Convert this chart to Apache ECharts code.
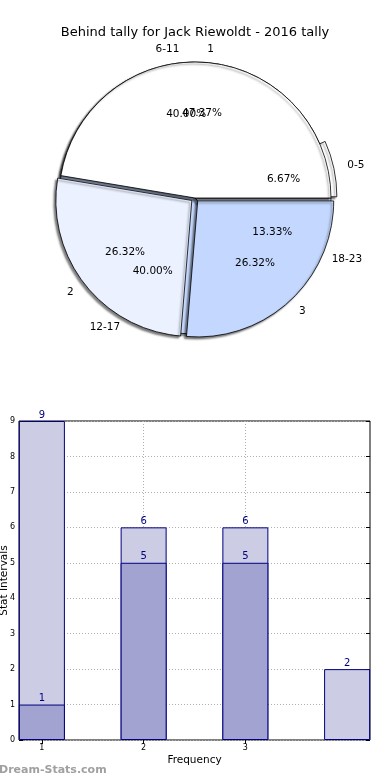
<!DOCTYPE html>
<html><head><meta charset="utf-8">
<script src="https://cdn.jsdelivr.net/npm/echarts@6/dist/echarts.min.js"></script>
<style>html,body{margin:0;padding:0;background:#fff}#c{width:390px;height:780px}</style>
</head><body><div id="c"></div>
<script>
// ---- data ----
const titleText = 'Behind tally for Jack Riewoldt - 2016 tally';
const intervalLabels = ['0-5', '6-11', '12-17', '18-23'];
const intervalCounts = [1, 6, 6, 2];
const freqLabels = ['1', '2', '3'];
const freqCounts = [9, 5, 5];
const barX = [1, 2, 3, 4];
const barLight = [9, 6, 6, 2];
const barDark = [1, 5, 5];
const xTickValues = [1, 2, 3];

// ---- style ----
const FONT = 'DejaVu Sans';
const CX = 195, CY = 198, R = 136;
const pie1Colors = ['#ffffff', '#ffffff', '#c6d9ff', '#eaf1ff'];
const pie2Colors = ['#ffffff', '#ebf1ff', '#c4d8ff'];
const pie1Selected = [true, false, false, false];
const pie2Selected = [false, true, true];

function pct(counts, i) {
  const s = counts.reduce((a, b) => a + b, 0);
  return (counts[i] / s * 100).toFixed(2) + '%';
}
function sliceData(labels, counts, colors, sel) {
  return labels.map((n, i) => ({ name: n, value: counts[i], selected: sel[i], itemStyle: { color: colors[i] } }));
}
function labelData(labels, counts, sel) {
  return labels.map((n, i) => ({ name: n, value: counts[i], selected: sel[i], label: { formatter: pct(counts, i) } }));
}
const baseSlice = {
  type: 'pie', center: [CX, CY], radius: [0, R], startAngle: 0, clockwise: false,
  selectedMode: 'multiple', avoidLabelOverlap: false, silent: true, emphasis: { disabled: true },
  labelLayout: { hideOverlap: false },
  itemStyle: { borderColor: '#000', borderWidth: 0.8, shadowColor: 'rgba(0,0,0,0.5)', shadowBlur: 2, shadowOffsetX: -2, shadowOffsetY: 2 },
  label: { show: true, position: 'outside', color: '#000', fontFamily: FONT, fontSize: 10.5, distanceToLabelLine: 0, formatter: '{b}' },
  labelLine: { show: false, length: R * 0.1, length2: 0 }
};
const baseLabel = {
  type: 'pie', center: [CX, CY], radius: [R * 0.2, R], startAngle: 0, clockwise: false,
  selectedMode: 'multiple', avoidLabelOverlap: false, silent: true, emphasis: { disabled: true },
  labelLayout: { hideOverlap: false },
  itemStyle: { color: 'rgba(0,0,0,0)', borderWidth: 0 },
  label: { show: true, position: 'inside', color: '#000', fontFamily: FONT, fontSize: 10.5 },
  labelLine: { show: false }
};
const gridLine = { show: true, lineStyle: { color: '#b0b0b0', type: [1, 2], width: 1 } };

const chart = echarts.init(document.getElementById('c'), null, { renderer: 'canvas' });
chart.setOption({
  animation: false,
  backgroundColor: '#fff',
  title: { text: titleText, left: 'center', top: 21, textStyle: { fontFamily: FONT, fontSize: 13, fontWeight: 'normal', color: '#000' } },
  grid: { left: 19, right: 20, top: 421, bottom: 40, containLabel: false, outerBoundsMode: 'none',
    show: true, borderColor: '#000', borderWidth: 1, backgroundColor: 'rgba(0,0,0,0)' },
  xAxis: [{
    type: 'value', min: 0.775, max: 4.225, position: 'bottom',
    name: 'Frequency', nameLocation: 'middle', nameGap: 15, nameMoveOverlap: false,
    nameTextStyle: { fontFamily: FONT, fontSize: 10.5, color: '#000' },
    axisLine: { show: false },
    axisTick: { show: true, inside: true, length: 4, customValues: xTickValues, lineStyle: { color: '#000' } },
    axisLabel: { show: true, customValues: xTickValues, fontFamily: FONT, fontSize: 8, color: '#000', margin: 4 },
    splitLine: gridLine
  }, {
    type: 'value', min: 0.775, max: 4.225, position: 'top',
    axisLine: { show: false },
    axisTick: { show: true, inside: true, length: 4, customValues: xTickValues, lineStyle: { color: '#000' } },
    axisLabel: { show: false }, splitLine: { show: false }
  }],
  yAxis: [{
    type: 'value', min: 0, max: 9, interval: 1, position: 'left',
    name: 'Stat Intervals', nameLocation: 'middle', nameGap: 9, nameMoveOverlap: false,
    nameTextStyle: { fontFamily: FONT, fontSize: 10.5, color: '#000' },
    axisLine: { show: false },
    axisTick: { show: true, inside: true, length: 4, lineStyle: { color: '#000' } },
    axisLabel: { fontFamily: FONT, fontSize: 8, color: '#000', margin: 4 },
    splitLine: gridLine
  }, {
    type: 'value', min: 0, max: 9, interval: 1, position: 'right',
    axisLine: { show: false },
    axisTick: { show: true, inside: true, length: 4, lineStyle: { color: '#000' } },
    axisLabel: { show: false }, splitLine: { show: false }
  }],
  graphic: [{ type: 'text', left: -1, top: 765, style: { text: 'Dream-Stats.com', fill: '#a0a0a0', font: 'bold 11px "DejaVu Sans"' } }],
  series: [
    Object.assign({}, baseSlice, { selectedOffset: 6, data: sliceData(intervalLabels, intervalCounts, pie1Colors, pie1Selected) }),
    Object.assign({}, baseSlice, { selectedOffset: 4, data: sliceData(freqLabels, freqCounts, pie2Colors, pie2Selected) }),
    Object.assign({}, baseLabel, { selectedOffset: 6, data: labelData(intervalLabels, intervalCounts, pie1Selected) }),
    Object.assign({}, baseLabel, { selectedOffset: 4, data: labelData(freqLabels, freqCounts, pie2Selected) }),
    {
      type: 'bar', xAxisIndex: 0, yAxisIndex: 0, barWidth: 46, barGap: '-100%',
      data: barX.map((x, i) => [x, barLight[i]]),
      itemStyle: { color: '#ccccE4', borderColor: '#000080', borderWidth: 1 },
      label: { show: true, position: 'top', distance: 1, color: '#000080', fontFamily: FONT, fontSize: 10 },
      silent: true
    },
    {
      type: 'bar', xAxisIndex: 0, yAxisIndex: 0, barWidth: 46, barGap: '-100%',
      data: barDark.map((v, i) => [barX[i], v]),
      itemStyle: { color: '#a2a3d1', borderColor: '#000080', borderWidth: 1 },
      label: { show: true, position: 'top', distance: 1, color: '#000080', fontFamily: FONT, fontSize: 10 },
      silent: true
    }
  ]
});
</script></body></html>
